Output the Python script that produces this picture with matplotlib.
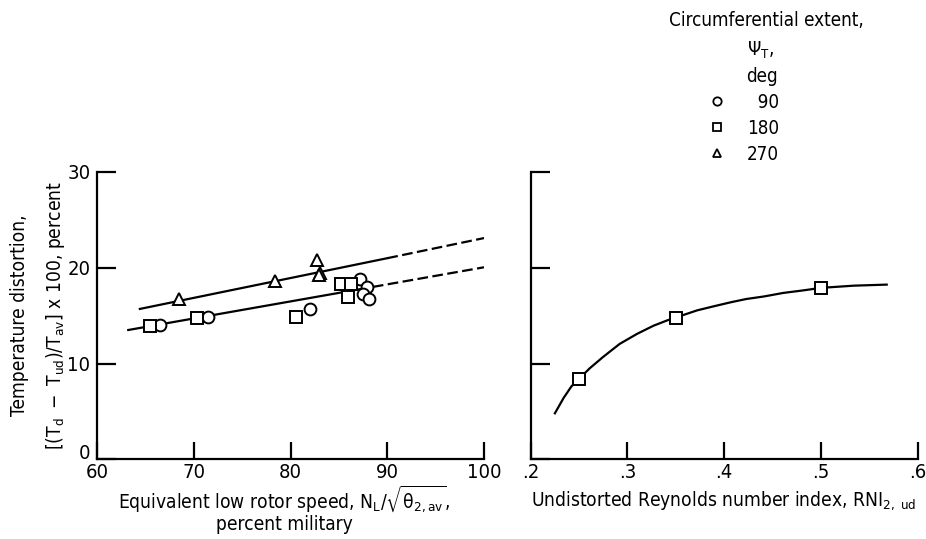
import matplotlib
matplotlib.use('Agg')
import matplotlib.pyplot as plt
import matplotlib.transforms as mtransforms
from matplotlib.lines import Line2D

plt.rcParams['font.family'] = ['DejaVu Sans']
plt.rcParams['font.stretch'] = 'condensed'
plt.rcParams['mathtext.default'] = 'regular'

# --- data ---
# temperature distortion vs low rotor speed, by circumferential extent
speed_90 = [66.5, 71.4, 82.0, 87.2, 87.9, 87.5, 88.1]
dist_90 = [14.0, 14.9, 15.7, 18.8, 18.0, 17.3, 16.7]
speed_180 = [65.5, 70.3, 80.5, 85.2, 86.2, 85.9]
dist_180 = [13.9, 14.8, 14.9, 18.3, 18.3, 16.9]
speed_270 = [68.4, 78.4, 82.7, 83.0, 82.9]
dist_270 = [16.7, 18.6, 20.8, 19.5, 19.2]

# faired lines (solid part, dashed extrapolation)
upper_x = [64.4, 90.0]
upper_y = [15.7, 21.0]
upper_ext_x = [90.0, 100.0]
upper_ext_y = [21.0, 23.1]
lower_x = [63.2, 88.5]
lower_y = [13.5, 18.0]
lower_ext_x = [88.5, 100.0]
lower_ext_y = [18.0, 20.05]

# temperature distortion vs Reynolds number index (180 deg)
rni = [0.25, 0.35, 0.50]
dist_rni = [8.4, 14.8, 17.9]
rni_curve = [0.225, 0.234, 0.242, 0.250, 0.261, 0.275, 0.292, 0.310, 0.327, 0.341,
             0.350, 0.372, 0.389, 0.407, 0.423, 0.441, 0.461, 0.482, 0.500, 0.534, 0.568]
dist_curve = [4.8, 6.4, 7.6, 8.4, 9.5, 10.7, 12.05, 13.1, 13.95, 14.5,
              14.8, 15.55, 15.97, 16.4, 16.74, 17.0, 17.37, 17.64, 17.9, 18.13, 18.24]

extents = ['90', '180', '270']
markers = ['o', 's', '^']

fig = plt.figure(figsize=(9.26, 5.39), dpi=100)
ax1 = fig.add_axes([0.1051, 0.1479, 0.4176, 0.533])
ax2 = fig.add_axes([0.5731, 0.1479, 0.4179, 0.533])

mk = dict(ls='none', mfc='white', mec='black', mew=1.4, ms=8.5, zorder=3)
lw = 1.6
dash = (0, (4.8, 2.0))

# left panel
ax1.plot(upper_x, upper_y, color='black', lw=lw)
ax1.plot(upper_ext_x, upper_ext_y, color='black', lw=lw, ls=dash)
ax1.plot(lower_x, lower_y, color='black', lw=lw)
ax1.plot(lower_ext_x, lower_ext_y, color='black', lw=lw, ls=dash)
ax1.plot(speed_90, dist_90, marker='o', **mk)
ax1.plot(speed_180, dist_180, marker='s', **mk)
ax1.plot(speed_270, dist_270, marker='^', **mk)

ax1.set_xlim(60, 100)
ax1.set_ylim(0, 30)
ax1.set_xticks([60, 70, 80, 90, 100])
ax1.set_yticks([0, 10, 20, 30])

# right panel
ax2.plot(rni_curve, dist_curve, color='black', lw=lw)
ax2.plot(rni, dist_rni, marker='s', **mk)
ax2.set_xlim(0.2, 0.6)
ax2.set_ylim(0, 30)
ax2.set_xticks([0.2, 0.3, 0.4, 0.5, 0.6])
ax2.set_xticklabels(['.2', '.3', '.4', '.5', '.6'])
ax2.set_yticks([0, 10, 20, 30])
ax2.set_yticklabels([])

for ax in (ax1, ax2):
    for s in ('top', 'right'):
        ax.spines[s].set_visible(False)
    for s in ('left', 'bottom'):
        ax.spines[s].set_linewidth(1.6)
    ax.tick_params(axis='x', direction='in', length=12.2, width=1.6, labelsize=14.5, pad=3)
    ax.tick_params(axis='y', direction='in', length=13.4, width=1.6, labelsize=14.5, pad=5)

# keep the "0" clear of the "60" below it
zero = ax1.get_yticklabels()[0]
zero.set_va('bottom')
zero.set_transform(zero.get_transform() +
                   mtransforms.ScaledTranslation(0, -3 / 72, fig.dpi_scale_trans))

# axis titles
lab = 13.8
ax1.text(-0.2, 0.5, 'Temperature distortion,', rotation=90, ha='center', va='center',
         transform=ax1.transAxes, fontsize=lab)
ax1.text(-0.107, 0.5, r'$\left[(T_d\ -\ T_{ud})/T_{av}\right]$ x 100, percent', rotation=90,
         ha='center', va='center', transform=ax1.transAxes, fontsize=lab)
ax1.text(0.483, -0.136, r'Equivalent low rotor speed, $N_L/\sqrt{\theta_{2,av}}$,', ha='center',
         va='center', transform=ax1.transAxes, fontsize=lab)
ax1.text(0.483, -0.226, 'percent military', ha='center', va='center',
         transform=ax1.transAxes, fontsize=lab)
ax2.text(0.5, -0.142, r'Undistorted Reynolds number index, $RNI_{2,\ ud}$', ha='center',
         va='center', transform=ax2.transAxes, fontsize=lab)

# key
fig.text(766 / 926, 1 - 20 / 539, 'Circumferential extent,', ha='center', va='center', fontsize=13.5)
fig.text(760 / 926, 1 - 50 / 539, r'$\Psi_T$,', ha='center', va='center', fontsize=13.5)
fig.text(762 / 926, 1 - 77 / 539, 'deg', ha='center', va='center', fontsize=13.5)
handles = [Line2D([], [], marker=m, ls='none', mfc='white', mec='black', mew=1.3, ms=6)
           for m in markers]
labels = ['\u2007' * (3 - len(e)) + e for e in extents]
ax2.legend(handles, labels, loc='upper right', bbox_to_anchor=(779 / 926, 1 - 93 / 539),
           bbox_transform=fig.transFigure, frameon=False, borderpad=0, handlelength=1.0,
           handletextpad=1.1, labelspacing=0.36, fontsize=13.5, borderaxespad=0)

fig.savefig('out.png', dpi=100)
